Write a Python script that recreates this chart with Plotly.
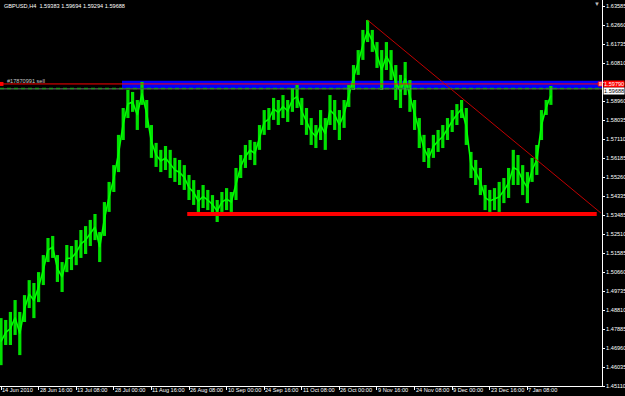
import plotly.graph_objects as go

# ---------------- data ----------------
symbol_text = "GBPUSD,H4  1.59383 1.59694 1.59294 1.59688"
bars_per_point = 8          # each point below summarises 8 H4 bars

high = [1.4839, 1.4830, 1.4869, 1.4927, 1.4869, 1.4951, 1.5024, 1.5010, 1.5063, 1.5146,
        1.5229, 1.5239, 1.5146, 1.5112, 1.5195, 1.5190, 1.5219, 1.5268, 1.5287, 1.5317,
        1.5346, 1.5258, 1.5404, 1.5502, 1.5584, 1.5731, 1.5862, 1.5950, 1.5940, 1.5901,
        1.5989, 1.5901, 1.5779, 1.5692, 1.5658, 1.5677, 1.5658, 1.5619, 1.5609, 1.5584,
        1.5536, 1.5511, 1.5463, 1.5487, 1.5463, 1.5438, 1.5414, 1.5453, 1.5472, 1.5453,
        1.5570, 1.5633, 1.5682, 1.5706, 1.5697, 1.5779, 1.5852, 1.5862, 1.5911, 1.5901,
        1.5925, 1.5901, 1.5959, 1.5974, 1.5911, 1.5862, 1.5813, 1.5779, 1.5852, 1.5813,
        1.5925, 1.5901, 1.5852, 1.5901, 1.5974, 1.6071, 1.6144, 1.6242, 1.6290, 1.6242,
        1.6183, 1.6144, 1.6183, 1.6144, 1.6071, 1.6023, 1.6086, 1.5998, 1.5901, 1.5813,
        1.5731, 1.5667, 1.5731, 1.5755, 1.5779, 1.5813, 1.5852, 1.5881, 1.5901, 1.5862,
        1.5648, 1.5609, 1.5570, 1.5487, 1.5463, 1.5472, 1.5502, 1.5521, 1.5570, 1.5658,
        1.5633, 1.5584, 1.5550, 1.5619, 1.5682, 1.5852, 1.5901, 1.5969]

low = [1.4610, 1.4708, 1.4708, 1.4757, 1.4659, 1.4820, 1.4888, 1.4839, 1.4917, 1.5000,
       1.5112, 1.5132, 1.5015, 1.4966, 1.5063, 1.5073, 1.5097, 1.5132, 1.5151, 1.5190,
       1.5219, 1.5112, 1.5239, 1.5356, 1.5453, 1.5550, 1.5706, 1.5813, 1.5843, 1.5755,
       1.5877, 1.5765, 1.5619, 1.5575, 1.5550, 1.5560, 1.5521, 1.5502, 1.5487, 1.5463,
       1.5414, 1.5390, 1.5356, 1.5375, 1.5365, 1.5346, 1.5307, 1.5356, 1.5365, 1.5356,
       1.5414, 1.5521, 1.5570, 1.5609, 1.5584, 1.5658, 1.5731, 1.5755, 1.5804, 1.5779,
       1.5813, 1.5794, 1.5843, 1.5862, 1.5779, 1.5731, 1.5682, 1.5667, 1.5706, 1.5658,
       1.5779, 1.5755, 1.5706, 1.5765, 1.5867, 1.5950, 1.6023, 1.6096, 1.6183, 1.6135,
       1.6057, 1.5950, 1.6047, 1.5998, 1.5901, 1.5862, 1.5925, 1.5843, 1.5755, 1.5667,
       1.5599, 1.5570, 1.5619, 1.5648, 1.5667, 1.5706, 1.5745, 1.5779, 1.5813, 1.5682,
       1.5521, 1.5487, 1.5438, 1.5365, 1.5356, 1.5365, 1.5356, 1.5399, 1.5424, 1.5487,
       1.5487, 1.5438, 1.5399, 1.5502, 1.5536, 1.5706, 1.5828, 1.5877]

x_tick_labels = ["14 Jun 2010", "28 Jun 16:00", "13 Jul 08:00", "28 Jul 00:00",
                 "11 Aug 16:00", "26 Aug 08:00", "10 Sep 00:00", "24 Sep 16:00",
                 "11 Oct 08:00", "26 Oct 00:00", "9 Nov 16:00", "24 Nov 08:00",
                 "9 Dec 00:00", "23 Dec 16:00", "7 Jan 08:00"]
bars_per_label = 64

# "1.59885" sits under the red order label in the reference, so it is not shown
y_tick_labels = ["1.63585", "1.62660", "1.61735", "1.60810", "", "1.58960",
                 "1.58035", "1.57110", "1.56185", "1.55260", "1.54335", "1.53485",
                 "1.52510", "1.51585", "1.50660", "1.49735", "1.48810", "1.47885",
                 "1.46960", "1.46035", "1.45110"]
y_tick_top = 1.63585
y_tick_step = 0.00925

# chart objects
zone_low, zone_high = 1.5958, 1.5994       # blue rectangle
zone_start_bar = 206
order_price = 1.5979                       # sell order line
order_label = "1.59790"
order_text = "#17870991 sell"
bid_line_price = 1.5955
bid_label = "1.59688"
support_price = 1.5346
support_bars = (317, 1014)
trend_start = (624, 1.6290)
trend_end = (1021, 1.5351)

x_range = (-1.7, 1023)
y_range = (1.45085, 1.63877)

# ---------------- figure ----------------
FONT = "Liberation Sans"
fig = go.Figure()

bar_x = [i * bars_per_point for i in range(len(high))]

# high-low bars
seg_x, seg_y = [], []
for b, h, l in zip(bar_x, high, low):
    seg_x += [b, b, None]
    seg_y += [l, h, None]
fig.add_trace(go.Scatter(x=seg_x, y=seg_y, mode="lines",
                         line=dict(color="#00e000", width=3.2),
                         hoverinfo="skip", showlegend=False))
# connecting path through bar mid-points
fig.add_trace(go.Scatter(x=bar_x, y=[(h + l) / 2 for h, l in zip(high, low)],
                         mode="lines", line=dict(color="#00ff00", width=1.6),
                         hoverinfo="skip", showlegend=False))

# order line end markers
fig.add_trace(go.Scatter(x=[x_range[0] + 2.5], y=[order_price], mode="markers",
                         marker=dict(symbol="square", size=4, color="#ff0000"),
                         showlegend=False, hoverinfo="skip"))
fig.add_trace(go.Scatter(x=[x_range[1] - 3], y=[order_price], mode="markers",
                         marker=dict(symbol="square", size=4, color="#ffffff",
                                     line=dict(color="#ff0000", width=1)),
                         showlegend=False, hoverinfo="skip"))

shapes = [
    dict(type="rect", xref="x", yref="y", x0=zone_start_bar, x1=x_range[1],
         y0=zone_low, y1=zone_high, fillcolor="#0000ff", line=dict(width=0),
         layer="below"),
    dict(type="line", xref="x", yref="y", x0=x_range[0], x1=x_range[1],
         y0=bid_line_price, y1=bid_line_price, line=dict(color="#707070", width=1)),
    dict(type="line", xref="x", yref="y", x0=x_range[0], x1=x_range[1],
         y0=bid_line_price + 0.0002, y1=bid_line_price + 0.0002,
         line=dict(color="#1f8f1f", width=1.5, dash="4px,3px")),
    dict(type="line", xref="x", yref="y", x0=x_range[0], x1=x_range[1],
         y0=order_price, y1=order_price, line=dict(color="#ff0000", width=1)),
    dict(type="line", xref="x", yref="y", x0=support_bars[0], x1=support_bars[1],
         y0=support_price, y1=support_price, line=dict(color="#ff0000", width=4)),
    dict(type="line", xref="x", yref="y", x0=trend_start[0], x1=trend_end[0],
         y0=trend_start[1], y1=trend_end[1], line=dict(color="#c00000", width=1)),
]

annotations = [
    dict(xref="paper", yref="paper", x=0.004, y=0.985, xanchor="left", yanchor="middle",
         text=symbol_text, showarrow=False,
         font=dict(family=FONT, size=5.6, color="#ffffff")),
    dict(xref="paper", yref="y", x=0.008, y=order_price, xanchor="left", yanchor="bottom",
         text=order_text, showarrow=False, yshift=-2,
         font=dict(family=FONT, size=5.6, color="#c8c8c8")),
    dict(xref="paper", yref="y", x=1, y=order_price, xanchor="left", yanchor="middle",
         xshift=1, text=order_label, showarrow=False, bgcolor="#ff0000", borderpad=0,
         font=dict(family=FONT, size=5.6, color="#ffffff")),
    dict(xref="paper", yref="y", x=1, y=bid_line_price - 0.0008, xanchor="left",
         yanchor="middle", xshift=1, text=bid_label, showarrow=False,
         bgcolor="#ffffff", borderpad=0,
         font=dict(family=FONT, size=5.6, color="#000000")),
    dict(xref="paper", yref="paper", x=0.992, y=0.99, xanchor="center", yanchor="middle",
         text="▼", showarrow=False, font=dict(family=FONT, size=6, color="#bbbbbb")),
]

# x tick labels: left-aligned at their tick, just under the axis line
for k, lab in enumerate(x_tick_labels):
    annotations.append(dict(xref="x", yref="paper", x=k * bars_per_label, y=0,
                            xanchor="left", yanchor="top", yshift=0, xshift=0,
                            text=lab, showarrow=False, borderpad=0,
                            font=dict(family=FONT, size=5.6, color="#ffffff")))

fig.update_layout(
    width=625, height=396,
    margin=dict(l=0, r=23, t=0, b=10, autoexpand=False),
    paper_bgcolor="#000000", plot_bgcolor="#000000",
    shapes=shapes, annotations=annotations, showlegend=False,
    xaxis=dict(range=list(x_range), showgrid=False, zeroline=False,
               showline=True, linecolor="#ffffff", linewidth=1,
               tickmode="array",
               tickvals=[k * bars_per_label for k in range(len(x_tick_labels))],
               showticklabels=False, ticks="outside", ticklen=3,
               tickcolor="#ffffff", automargin=False, fixedrange=True),
    yaxis=dict(range=list(y_range), side="right", showgrid=False, zeroline=False,
               showline=True, linecolor="#ffffff", linewidth=1,
               tickmode="array",
               tickvals=[y_tick_top - k * y_tick_step for k in range(len(y_tick_labels))],
               ticktext=y_tick_labels, ticks="outside", ticklen=2,
               tickcolor="#ffffff",
               tickfont=dict(family=FONT, size=5.6, color="#ffffff"),
               automargin=False, fixedrange=True),
)

fig.write_html("out.html")
